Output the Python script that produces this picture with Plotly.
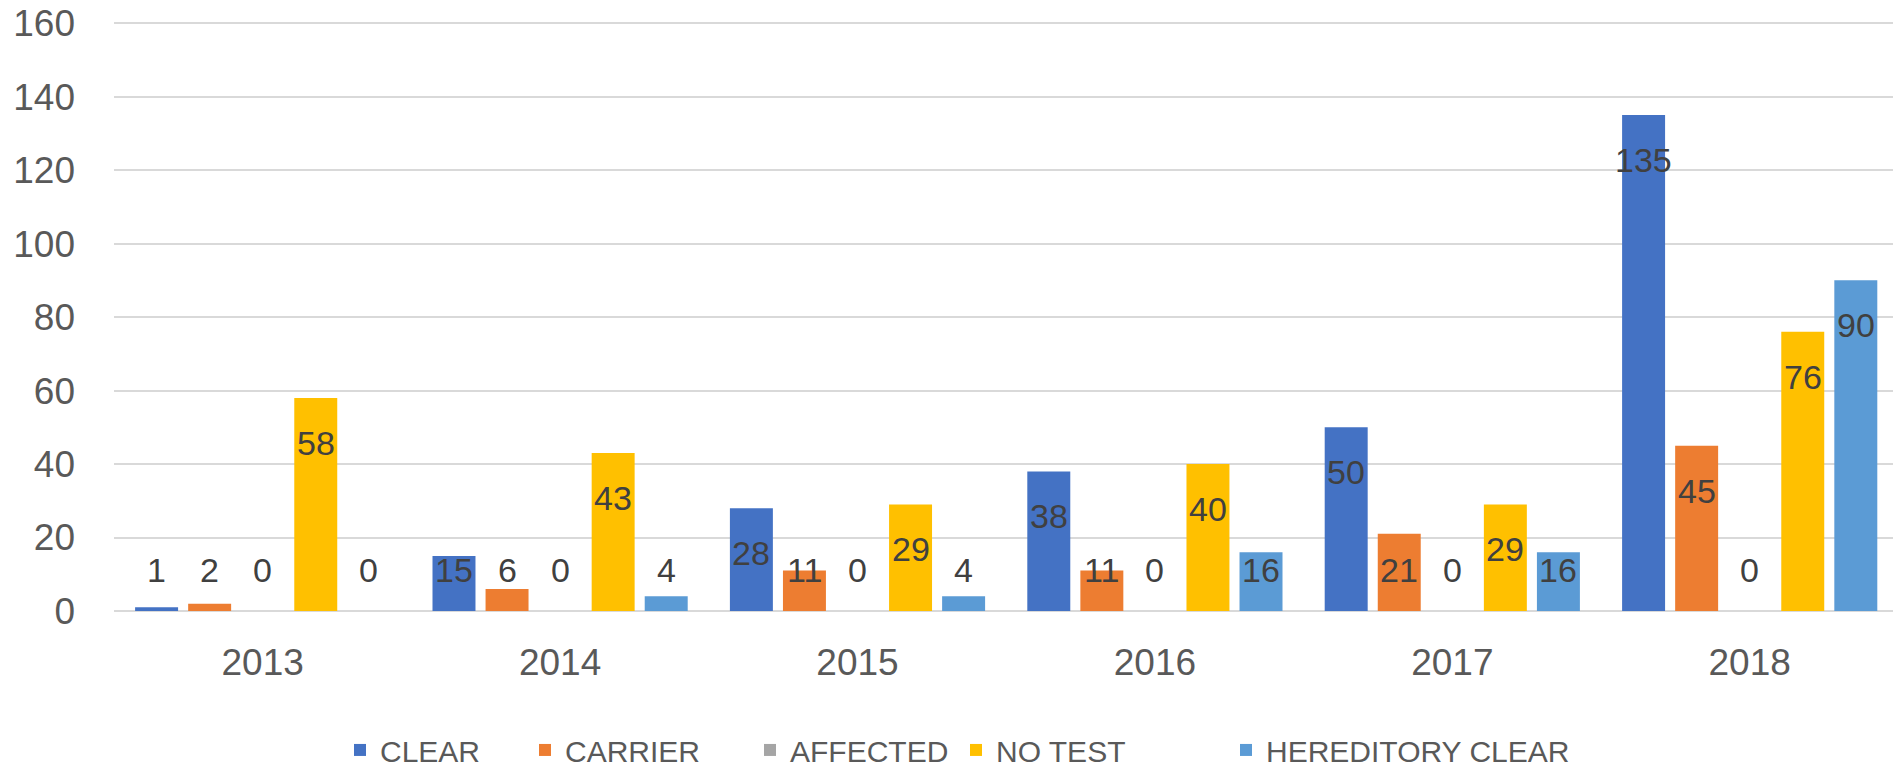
import plotly.graph_objects as go

years = ["2013", "2014", "2015", "2016", "2017", "2018"]
series_names = ["CLEAR", "CARRIER", "AFFECTED", "NO TEST", "HEREDITORY CLEAR"]
clear = [1, 15, 28, 38, 50, 135]
carrier = [2, 6, 11, 11, 21, 45]
affected = [0, 0, 0, 0, 0, 0]
no_test = [58, 43, 29, 40, 29, 76]
hereditory_clear = [0, 4, 4, 16, 16, 90]
y_ticks = [0, 20, 40, 60, 80, 100, 120, 140, 160]

series_values = [clear, carrier, affected, no_test, hereditory_clear]
colors = ["#4472C4", "#ED7D31", "#A5A5A5", "#FFC000", "#5B9BD5"]

FONT = "Liberation Sans"
W, H = 1893, 770
# target positions in page pixels
PLOT_LEFT, Y160, Y0, LEGEND_Y = 114, 23, 611, 750
legend_px = [361, 546, 771, 977, 1247]   # legend symbol centres (px)

Y_TOP = 160
Y_RANGE_MAX = 160.6
px_per_unit = (Y0 - Y160) / Y_TOP
M_L = PLOT_LEFT
M_R = 0
M_B = H - Y0
M_T = Y160 - (Y_RANGE_MAX - Y_TOP) * px_per_unit
BARGAP = 0.108
BARGROUPGAP = 0.19

plot_w = W - M_L - M_R
plot_h = H - M_T - M_B
cat_px = 297.4
x_hi = -0.5 + plot_w / cat_px

fig = go.Figure()
legend_layouts = {}
for k, (name, vals, col) in enumerate(zip(series_names, series_values, colors)):
    lg = "legend" if k == 0 else f"legend{k + 1}"
    fig.add_trace(go.Bar(
        x=years, y=vals, name=name,
        marker=dict(color=col, line=dict(width=0)),
        legend=lg,
    ))
    legend_layouts[lg] = dict(
        orientation="h",
        x=(legend_px[k] - 21 - M_L) / plot_w, xanchor="left",
        y=-(LEGEND_Y - Y0) / plot_h, yanchor="middle",
        font=dict(family=FONT, size=30, color="#595959"),
        bgcolor="rgba(0,0,0,0)", borderwidth=0,
        itemclick=False, itemdoubleclick=False,
    )

# data labels: inside end, pushed up to a minimum height for short bars
n = len(series_names)
slot = (1 - BARGAP) / n
annotations = []
for j, vals in enumerate(series_values):
    for i, v in enumerate(vals):
        y_lab = max(v - 45 / px_per_unit, 41 / px_per_unit)
        annotations.append(dict(
            x=i + (j - (n - 1) / 2) * slot, y=y_lab, xref="x", yref="y",
            text=str(v), showarrow=False,
            font=dict(family=FONT, size=34, color="#404040"),
            xanchor="center", yanchor="middle",
        ))

fig.update_layout(
    width=W, height=H,
    margin=dict(l=M_L, r=M_R, t=M_T, b=M_B, pad=0, autoexpand=False),
    paper_bgcolor="white", plot_bgcolor="white",
    barmode="group", bargap=BARGAP, bargroupgap=BARGROUPGAP,
    font=dict(family=FONT, color="#595959"),
    showlegend=True,
    annotations=annotations,
    **legend_layouts,
)
fig.update_xaxes(
    type="category", range=[-0.5, x_hi], automargin=False,
    showgrid=False, showline=False, zeroline=False, ticks="",
    tickfont=dict(family=FONT, size=37, color="#595959"),
    ticklabelstandoff=26,
)
fig.update_yaxes(
    range=[0, Y_RANGE_MAX], tickvals=y_ticks, automargin=False,
    showgrid=True, gridcolor="#D9D9D9", gridwidth=2,
    zeroline=True, zerolinecolor="#D9D9D9", zerolinewidth=2,
    showline=False, ticks="",
    tickfont=dict(family=FONT, size=37, color="#595959"),
    ticklabelstandoff=38, ticklabeloverflow="allow",
)

fig.write_html(
    "out.html",
    config={"displayModeBar": False},
    post_script="document.body.style.margin='0px';",
)
